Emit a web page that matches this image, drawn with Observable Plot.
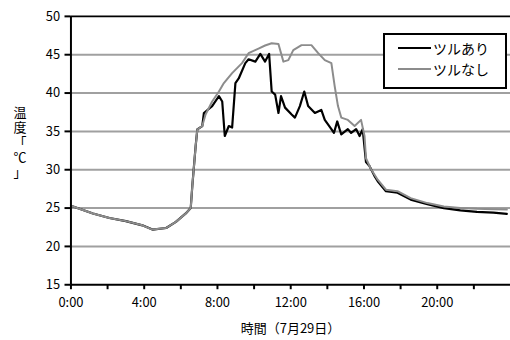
<!DOCTYPE html>
<html><head><meta charset="utf-8">
<script src="https://cdn.jsdelivr.net/npm/d3@7"></script>
<script src="https://cdn.jsdelivr.net/npm/@observablehq/plot@0.6"></script>
<style>
html,body{margin:0;padding:0;background:#fff;overflow:hidden;width:510px;height:340px;}
#wrap{position:relative;width:510px;height:340px;font-family:"Noto Sans CJK JP","Noto Sans",sans-serif;}
#ylab{position:absolute;left:10px;top:104px;width:20px;white-space:pre;text-align:center;font-size:13px;line-height:15px;color:#000;}
#xlab{position:absolute;left:0;width:581px;top:318px;text-align:center;font-size:13px;color:#000;}
#legend{position:absolute;left:383px;top:33px;width:120px;height:52px;border:2px solid #000;background:#fff;font-size:14px;}
.row{position:absolute;left:13px;height:20px;display:flex;align-items:center;}
.sw{width:33px;height:0;border-top:2px solid #000;margin-right:2px;}
</style></head>
<body><div id="wrap"></div>
<script>
// Hours of day (0 = 0:00) and temperatures (°C)
const hoursNashi = [0,1.2,2.1,3.0,3.9,4.45,5.2,5.73,6.27,6.54,6.63,6.81,6.9,7.17,7.35,7.71,8.08,8.35,8.8,9.34,9.7,10.24,10.6,10.96,11.33,11.6,11.87,12.14,12.59,13.13,13.5,13.86,14.22,14.4,14.58,14.76,15.12,15.49,15.84,16.03,16.11,16.38,16.75,17.2,17.83,18.55,19.46,20.36,21.26,22.17,23.07,23.8];
const tempNashi = [25.3,24.3,23.7,23.3,22.75,22.2,22.4,23.2,24.3,25.0,28,33.1,35.25,35.7,37.2,38.9,40.2,41.3,42.6,43.9,45.2,45.8,46.2,46.5,46.4,44.1,44.3,45.6,46.25,46.25,45.2,44.3,43.9,40.9,38.3,36.8,36.5,35.7,36.5,34.4,31.5,30.1,28.7,27.4,27.2,26.3,25.65,25.2,25.0,24.9,24.85,24.8];
const hoursAri = [0,1.2,2.1,3.0,3.9,4.45,5.2,5.73,6.27,6.54,6.63,6.81,6.9,7.17,7.26,7.71,8.08,8.26,8.4,8.62,8.8,8.98,9.16,9.52,9.7,10.07,10.34,10.6,10.82,10.96,11.15,11.33,11.47,11.69,12.05,12.23,12.5,12.74,12.95,13.32,13.67,13.86,14.22,14.36,14.54,14.76,15.12,15.3,15.57,15.76,15.93,16.11,16.3,16.57,16.75,17.2,17.83,18.55,19.46,20.36,21.26,22.17,23.07,23.8];
const tempAri = [25.3,24.3,23.7,23.3,22.75,22.2,22.4,23.2,24.3,25.0,28,33.1,35.25,35.7,37.4,38.3,39.6,38.9,34.4,35.7,35.5,41.3,41.9,43.9,44.4,44.1,45.1,44.1,45.1,40.2,39.8,37.4,39.6,38.1,37.2,36.8,38.3,40.2,38.3,37.4,37.8,36.5,35.3,34.8,36.3,34.6,35.3,34.8,35.3,34.4,35.3,31.0,30.5,29.2,28.5,27.2,27.0,26.1,25.5,25.0,24.7,24.5,24.4,24.25];
const seriesNames = ["ツルあり","ツルなし"];
const seriesColors = ["#000000","#8c8c8c"];
const yTicks = [15,20,25,30,35,40,45,50];
const xTickHours = [0,2,4,6,8,10,12,14,16,18,20,22];
const xLabelHours = [0,4,8,12,16,20];
const xTitle = "時間（7月29日）";
const yTitle = "温度「℃」";

const ari = hoursAri.map((h,i)=>({h, t:tempAri[i], s:seriesNames[0]}));
const nashi = hoursNashi.map((h,i)=>({h, t:tempNashi[i], s:seriesNames[1]}));

const chart = Plot.plot({
  width: 514, height: 340,
  marginLeft: 71, marginRight: 0, marginTop: 16, marginBottom: 53.5,
  style: {fontFamily: '"Noto Sans CJK JP","Noto Sans",sans-serif', fontSize: "13px", color: "#000", background: "transparent", overflow: "visible"},
  x: {domain: [0, 24]},
  y: {domain: [15, 50]},
  marks: [
    Plot.ruleY(yTicks.filter(d => d > 15 && d < 50), {stroke: "#a0a0a0", strokeWidth: 2}),
    Plot.ruleY([50], {stroke: "#000", strokeWidth: 2}),
    Plot.line(ari, {x: "h", y: "t", stroke: seriesColors[0], strokeWidth: 2.2}),
    Plot.line(nashi, {x: "h", y: "t", stroke: seriesColors[1], strokeWidth: 2}),
    Plot.axisY({ticks: yTicks, tickSize: 6, tickPadding: 5, strokeWidth: 2, fontSize: 13, label: null}),
    Plot.axisX({ticks: xTickHours, tickSize: 5, tickPadding: 8, strokeWidth: 2, fontSize: 13, label: null,
      tickFormat: d => xLabelHours.includes(d) ? `${d}:00` : ""}),
    Plot.ruleX([0], {stroke: "#000", strokeWidth: 2}),
    Plot.ruleY([15], {stroke: "#000", strokeWidth: 2})
  ]
});
const wrap = document.getElementById("wrap");
wrap.appendChild(chart);

const ylab = document.createElement("div");
ylab.id = "ylab";
ylab.textContent = Array.from(yTitle).join("\n");
wrap.appendChild(ylab);

const xlab = document.createElement("div");
xlab.id = "xlab";
xlab.textContent = xTitle;
wrap.appendChild(xlab);

const lg = document.createElement("div");
lg.id = "legend";
seriesNames.forEach((n,i) => {
  const r = document.createElement("div");
  r.className = "row";
  r.style.top = (i === 0 ? 3 : 24) + "px";
  r.innerHTML = `<span class="sw" style="border-top-color:${seriesColors[i]}"></span><span>${n}</span>`;
  lg.appendChild(r);
});
wrap.appendChild(lg);
</script></body></html>
